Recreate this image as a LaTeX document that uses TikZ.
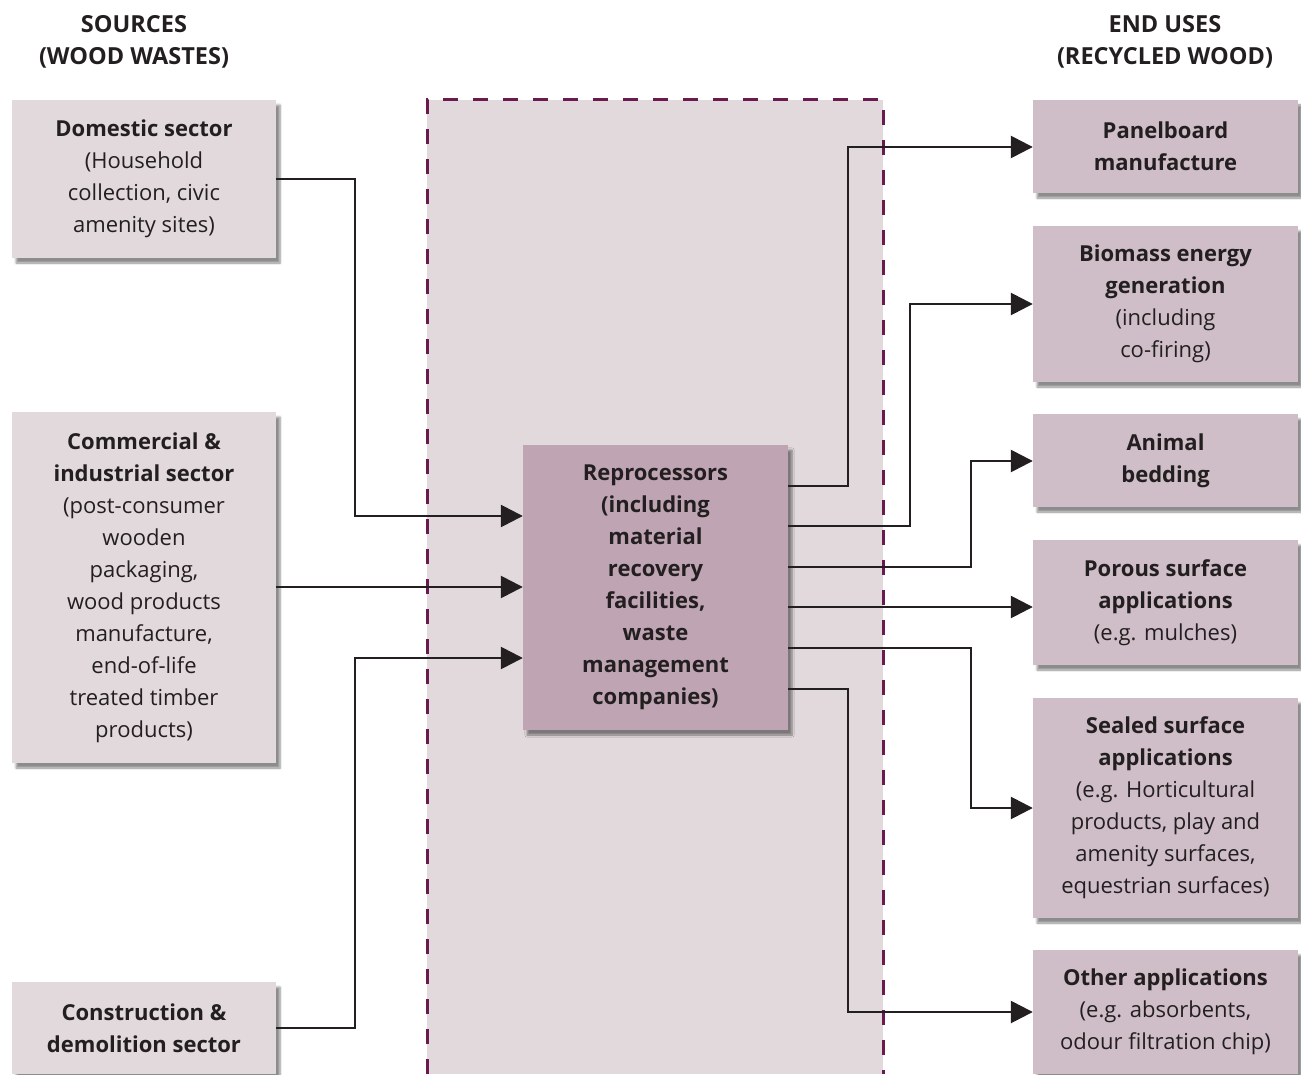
\documentclass[tikz,border=0pt]{standalone}
\usepackage{fontspec}
\setmainfont{Open Sans}
\usetikzlibrary{arrows.meta,shadows.blur}
\definecolor{txt}{HTML}{231F20}
\definecolor{lightbox}{HTML}{E2D9DD}
\definecolor{endbox}{HTML}{CFBEC7}
\definecolor{midbox}{HTML}{BFA5B3}
\definecolor{dashcol}{HTML}{6B1A4E}
\tikzset{
  box/.style={fill=lightbox, draw=none, text=txt, align=center, inner sep=0pt,
    font=\fontsize{22}{32}\selectfont,
    blur shadow={shadow xshift=4pt, shadow yshift=-5pt, shadow blur steps=6, shadow opacity=45}},
  srcbox/.style={box, minimum width=264pt},
  endnode/.style={box, fill=endbox, minimum width=265pt},
  midnode/.style={box, fill=midbox, minimum width=265pt, minimum height=285pt},
  head/.style={text=txt, align=center, font=\fontsize{23.5}{32}\selectfont\bfseries},
  conn/.style={draw=txt, line width=2.6pt},
  arr/.style={conn, -{Triangle[length=22pt,width=22pt]}},
}
\begin{document}
\begin{tikzpicture}[x=1pt,y=-1pt]
\useasboundingbox (0,0) rectangle (1301,1075);
% dashed region
\path[fill=lightbox] (427,100) rectangle (883,1074);
\draw[dashcol, line width=3pt, dash pattern=on 15pt off 15pt] (427,1074) -- (427,100) -- (883,100) -- (883,1074);
% headers
\node[head] (hsrc) at (134,42) {SOURCES\\(WOOD WASTES)};
\node[head] (hend) at (1165,42) {END USES\\(RECYCLED WOOD)};
% source boxes
\node[srcbox, minimum height=158pt] (dom) at (144,179) {\textbf{Domestic sector}\\(Household\\collection, civic\\amenity sites)};
\node[srcbox, minimum height=351pt] (com) at (144,587.5) {\textbf{Commercial \&}\\\textbf{industrial sector}\\(post-consumer\\wooden\\packaging,\\wood products\\manufacture,\\end-of-life\\treated timber\\products)};
\node[srcbox, minimum height=92pt] (con) at (144,1028) {\textbf{Construction \&}\\\textbf{demolition sector}};
% central box
\node[midnode] (rep) at (655.5,587.5) {\bfseries Reprocessors\\\bfseries (including\\\bfseries material\\\bfseries recovery\\\bfseries facilities,\\\bfseries waste\\\bfseries management\\\bfseries companies)};
% end boxes
\node[endnode, minimum height=93pt] (pan) at (1165.5,146.5) {\bfseries Panelboard\\\bfseries manufacture};
\node[endnode, minimum height=156pt] (bio) at (1165.5,304) {\textbf{Biomass energy}\\\textbf{generation}\\(including\\co-firing)};
\node[endnode, minimum height=93pt] (ani) at (1165.5,460.5) {\bfseries Animal\\\bfseries bedding};
\node[endnode, minimum height=125pt] (por) at (1165.5,602.5) {\textbf{Porous surface}\\\textbf{applications}\\(e.g. mulches)};
\node[endnode, minimum height=220pt] (sea) at (1165.5,808) {\textbf{Sealed surface}\\\textbf{applications}\\(e.g. Horticultural\\products, play and\\amenity surfaces,\\equestrian surfaces)};
\node[endnode, minimum height=124pt] (oth) at (1165.5,1012) {\textbf{Other applications}\\(e.g. absorbents,\\odour filtration chip)};
% input connectors
\draw[arr] (dom.east |- 0,179) -- (355,179) -- (355,516) -- (rep.west |- 0,516);
\draw[arr] (com.east |- 0,587) -- (rep.west |- 0,587);
\draw[arr] (con.east |- 0,1028) -- (355,1028) -- (355,658) -- (rep.west |- 0,658);
% output connectors
\draw[arr] (rep.east |- 0,486) -- (848,486) -- (848,147) -- (pan.west |- 0,147);
\draw[arr] (rep.east |- 0,526) -- (910,526) -- (910,304) -- (bio.west |- 0,304);
\draw[arr] (rep.east |- 0,567) -- (971,567) -- (971,461) -- (ani.west |- 0,461);
\draw[arr] (rep.east |- 0,607) -- (por.west |- 0,607);
\draw[arr] (rep.east |- 0,648) -- (971,648) -- (971,808) -- (sea.west |- 0,808);
\draw[arr] (rep.east |- 0,689) -- (848,689) -- (848,1012) -- (oth.west |- 0,1012);
\end{tikzpicture}
\end{document}
